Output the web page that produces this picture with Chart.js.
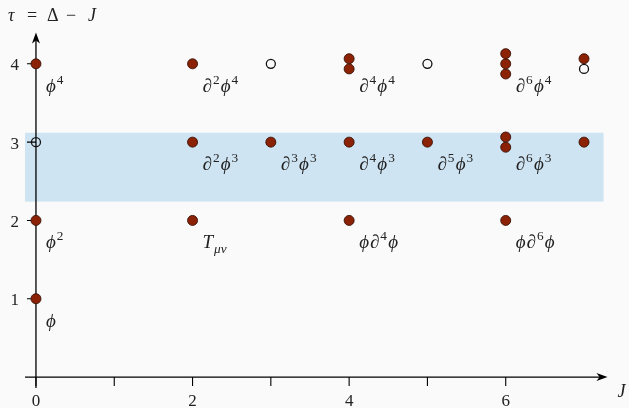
<!DOCTYPE html>
<html>
<head>
<meta charset="utf-8">
<script src="https://cdn.jsdelivr.net/npm/chart.js@4"></script>
<style>
  html, body { margin: 0; padding: 0; background: #fafafa; }
  #wrap { width: 629px; height: 408px; }
</style>
</head>
<body>
<div id="wrap"><canvas id="myChart"></canvas></div>
<script>
// operators with filled markers (J, tau)
const filledJ   = [0, 0, 0, 2, 2, 2, 3, 4, 4, 4, 4, 5, 6, 6, 6, 6, 6, 6, 7, 7];
const filledTau = [1, 2, 4, 2, 3, 4, 3, 2, 3, 3.935, 4.065, 3, 2, 2.935, 3.065, 3.87, 4, 4.13, 3, 4.065];
// open markers
const openJ   = [0, 3, 5, 7];
const openTau = [3, 4, 4, 3.935];

// operator labels
const labelJ    = [0, 2, 4, 6, 2, 3, 4, 5, 6, 0, 2, 4, 6, 0];
const labelTau  = [4, 4, 4, 4, 3, 3, 3, 3, 3, 2, 2, 2, 2, 1];
const labelText = ['ϕ^4', '∂^2ϕ^4', '∂^4ϕ^4', '∂^6ϕ^4',
                   '∂^2ϕ^3', '∂^3ϕ^3', '∂^4ϕ^3', '∂^5ϕ^3', '∂^6ϕ^3',
                   'ϕ^2', 'T_{μν}', 'ϕ∂^4ϕ', 'ϕ∂^6ϕ', 'ϕ'];

// axes
const xTicks = [0, 1, 2, 3, 4, 5, 6];
const xTickLabels = ['0', '', '2', '', '4', '', '6'];
const yTicks = [1, 2, 3, 4];
const yTickLabels = ['1', '2', '3', '4'];

// shaded band (tau range)
const bandTau = [2.24, 3.12];
const bandJEnd = 7.25;

const SERIF = "'Liberation Serif', 'DejaVu Serif', serif";

function toPoints(xs, ys) {
    return xs.map((x, i) => ({ x: x, y: ys[i] }));
}

// split "∂^2ϕ^4" / "T_{μν}" into pieces
function parseLabel(s) {
    const out = [];
    let i = 0;
    while (i < s.length) {
        const c = s[i];
        if (c === '^' || c === '_') {
            let t;
            if (s[i + 1] === '{') {
                const j = s.indexOf('}', i);
                t = s.slice(i + 2, j);
                i = j + 1;
            } else {
                t = s[i + 1];
                i += 2;
            }
            out.push({ t: t, k: c === '^' ? 'sup' : 'sub' });
        } else {
            out.push({ t: c, k: 'base' });
            i++;
        }
    }
    return out;
}

function drawMath(ctx, s, x, y, size) {
    for (const p of parseLabel(s)) {
        let fs = size, dy = 0, style = 'italic ';
        if (p.k === 'sup') { fs = size * 0.7; dy = -size * 0.42; }
        if (p.k === 'sub') { fs = size * 0.7; dy = size * 0.22; }
        if (/^[0-9]+$/.test(p.t)) style = '';
        ctx.font = style + fs + 'px ' + SERIF;
        ctx.fillText(p.t, x, y + dy);
        x += ctx.measureText(p.t).width + (p.k === 'base' ? 1 : 1.2);
    }
}

const axesPlugin = {
    id: 'axesPlugin',
    beforeDatasetsDraw(chart) {
        const ctx = chart.ctx;
        const xs = chart.scales.x, ys = chart.scales.y;
        const area = chart.chartArea;
        const x0 = xs.getPixelForValue(0), y0 = ys.getPixelForValue(0);
        ctx.save();

        // band
        ctx.fillStyle = 'rgb(207,228,242)';
        const bTop = ys.getPixelForValue(bandTau[1]);
        const bBot = ys.getPixelForValue(bandTau[0]);
        ctx.fillRect(area.left, bTop, xs.getPixelForValue(bandJEnd) - area.left, bBot - bTop);

        ctx.strokeStyle = '#000';
        ctx.fillStyle = '#000';
        ctx.lineWidth = 1.3;

        // axis lines
        const xTip = area.right, yTip = area.top;
        ctx.beginPath();
        ctx.moveTo(area.left, y0); ctx.lineTo(xTip - 4, y0);
        ctx.moveTo(x0, area.bottom); ctx.lineTo(x0, yTip + 4);
        ctx.stroke();

        // arrow heads
        ctx.beginPath();
        ctx.moveTo(xTip, y0);
        ctx.lineTo(xTip - 11, y0 - 4);
        ctx.lineTo(xTip - 8, y0);
        ctx.lineTo(xTip - 11, y0 + 4);
        ctx.closePath();
        ctx.fill();
        ctx.beginPath();
        ctx.moveTo(x0, yTip);
        ctx.lineTo(x0 - 4, yTip + 11);
        ctx.lineTo(x0, yTip + 8);
        ctx.lineTo(x0 + 4, yTip + 11);
        ctx.closePath();
        ctx.fill();

        // ticks
        ctx.lineWidth = 1.1;
        ctx.beginPath();
        xTicks.forEach(v => {
            const px = xs.getPixelForValue(v);
            ctx.moveTo(px, y0); ctx.lineTo(px, y0 + 9);
        });
        yTicks.forEach(v => {
            const py = ys.getPixelForValue(v);
            ctx.moveTo(x0, py); ctx.lineTo(x0 - 9, py);
        });
        ctx.stroke();

        // tick labels
        ctx.font = '17px ' + SERIF;
        ctx.fillStyle = '#222';
        ctx.textAlign = 'center';
        ctx.textBaseline = 'alphabetic';
        xTicks.forEach((v, i) => {
            ctx.fillText(xTickLabels[i], xs.getPixelForValue(v), y0 + 29);
        });
        ctx.textAlign = 'right';
        yTicks.forEach((v, i) => {
            ctx.fillText(yTickLabels[i], x0 - 17, ys.getPixelForValue(v) + 6.5);
        });

        // axis titles
        ctx.textAlign = 'left';
        const ty = 21;
        ctx.font = 'italic 18px ' + SERIF;
        ctx.fillText('τ', 8, ty);
        ctx.font = '18px ' + SERIF;
        ctx.fillText('=', 27, ty);
        ctx.fillText('Δ', 47, ty);
        ctx.fillText('−', 66, ty);
        ctx.font = 'italic 18px ' + SERIF;
        ctx.fillText('J', 88, ty);
        ctx.fillText('J', xTip + 10, y0 + 20);

        // operator labels
        labelText.forEach((s, i) => {
            const px = xs.getPixelForValue(labelJ[i]) + 10;
            const py = ys.getPixelForValue(labelTau[i]) + 28;
            drawMath(ctx, s, px, py, 19);
        });
        ctx.restore();
    }
};

const ctx = document.getElementById('myChart');
new Chart(ctx, {
    type: 'scatter',
    data: {
        datasets: [{
            label: 'open',
            data: toPoints(openJ, openTau),
            pointRadius: 4.5,
            pointBackgroundColor: 'rgba(0,0,0,0)',
            pointBorderColor: '#111',
            pointBorderWidth: 1.3
        },
        {
            label: 'filled',
            data: toPoints(filledJ, filledTau),
            pointRadius: 5,
            pointBackgroundColor: '#8b2205',
            pointBorderColor: '#3a1208',
            pointBorderWidth: 0.9
        }]
    },
    plugins: [axesPlugin],
    options: {
        responsive: true,
        maintainAspectRatio: false,
        animation: false,
        layout: {
            padding: { left: 25, right: 21.5, top: 32.5, bottom: 20 }
        },
        plugins: {
            legend: { display: false },
            tooltip: { enabled: false }
        },
        scales: {
            x: { type: 'linear', min: -0.14, max: 7.3, display: false },
            y: { type: 'linear', min: -0.14, max: 4.4, display: false }
        }
    }
});
</script>
</body>
</html>
